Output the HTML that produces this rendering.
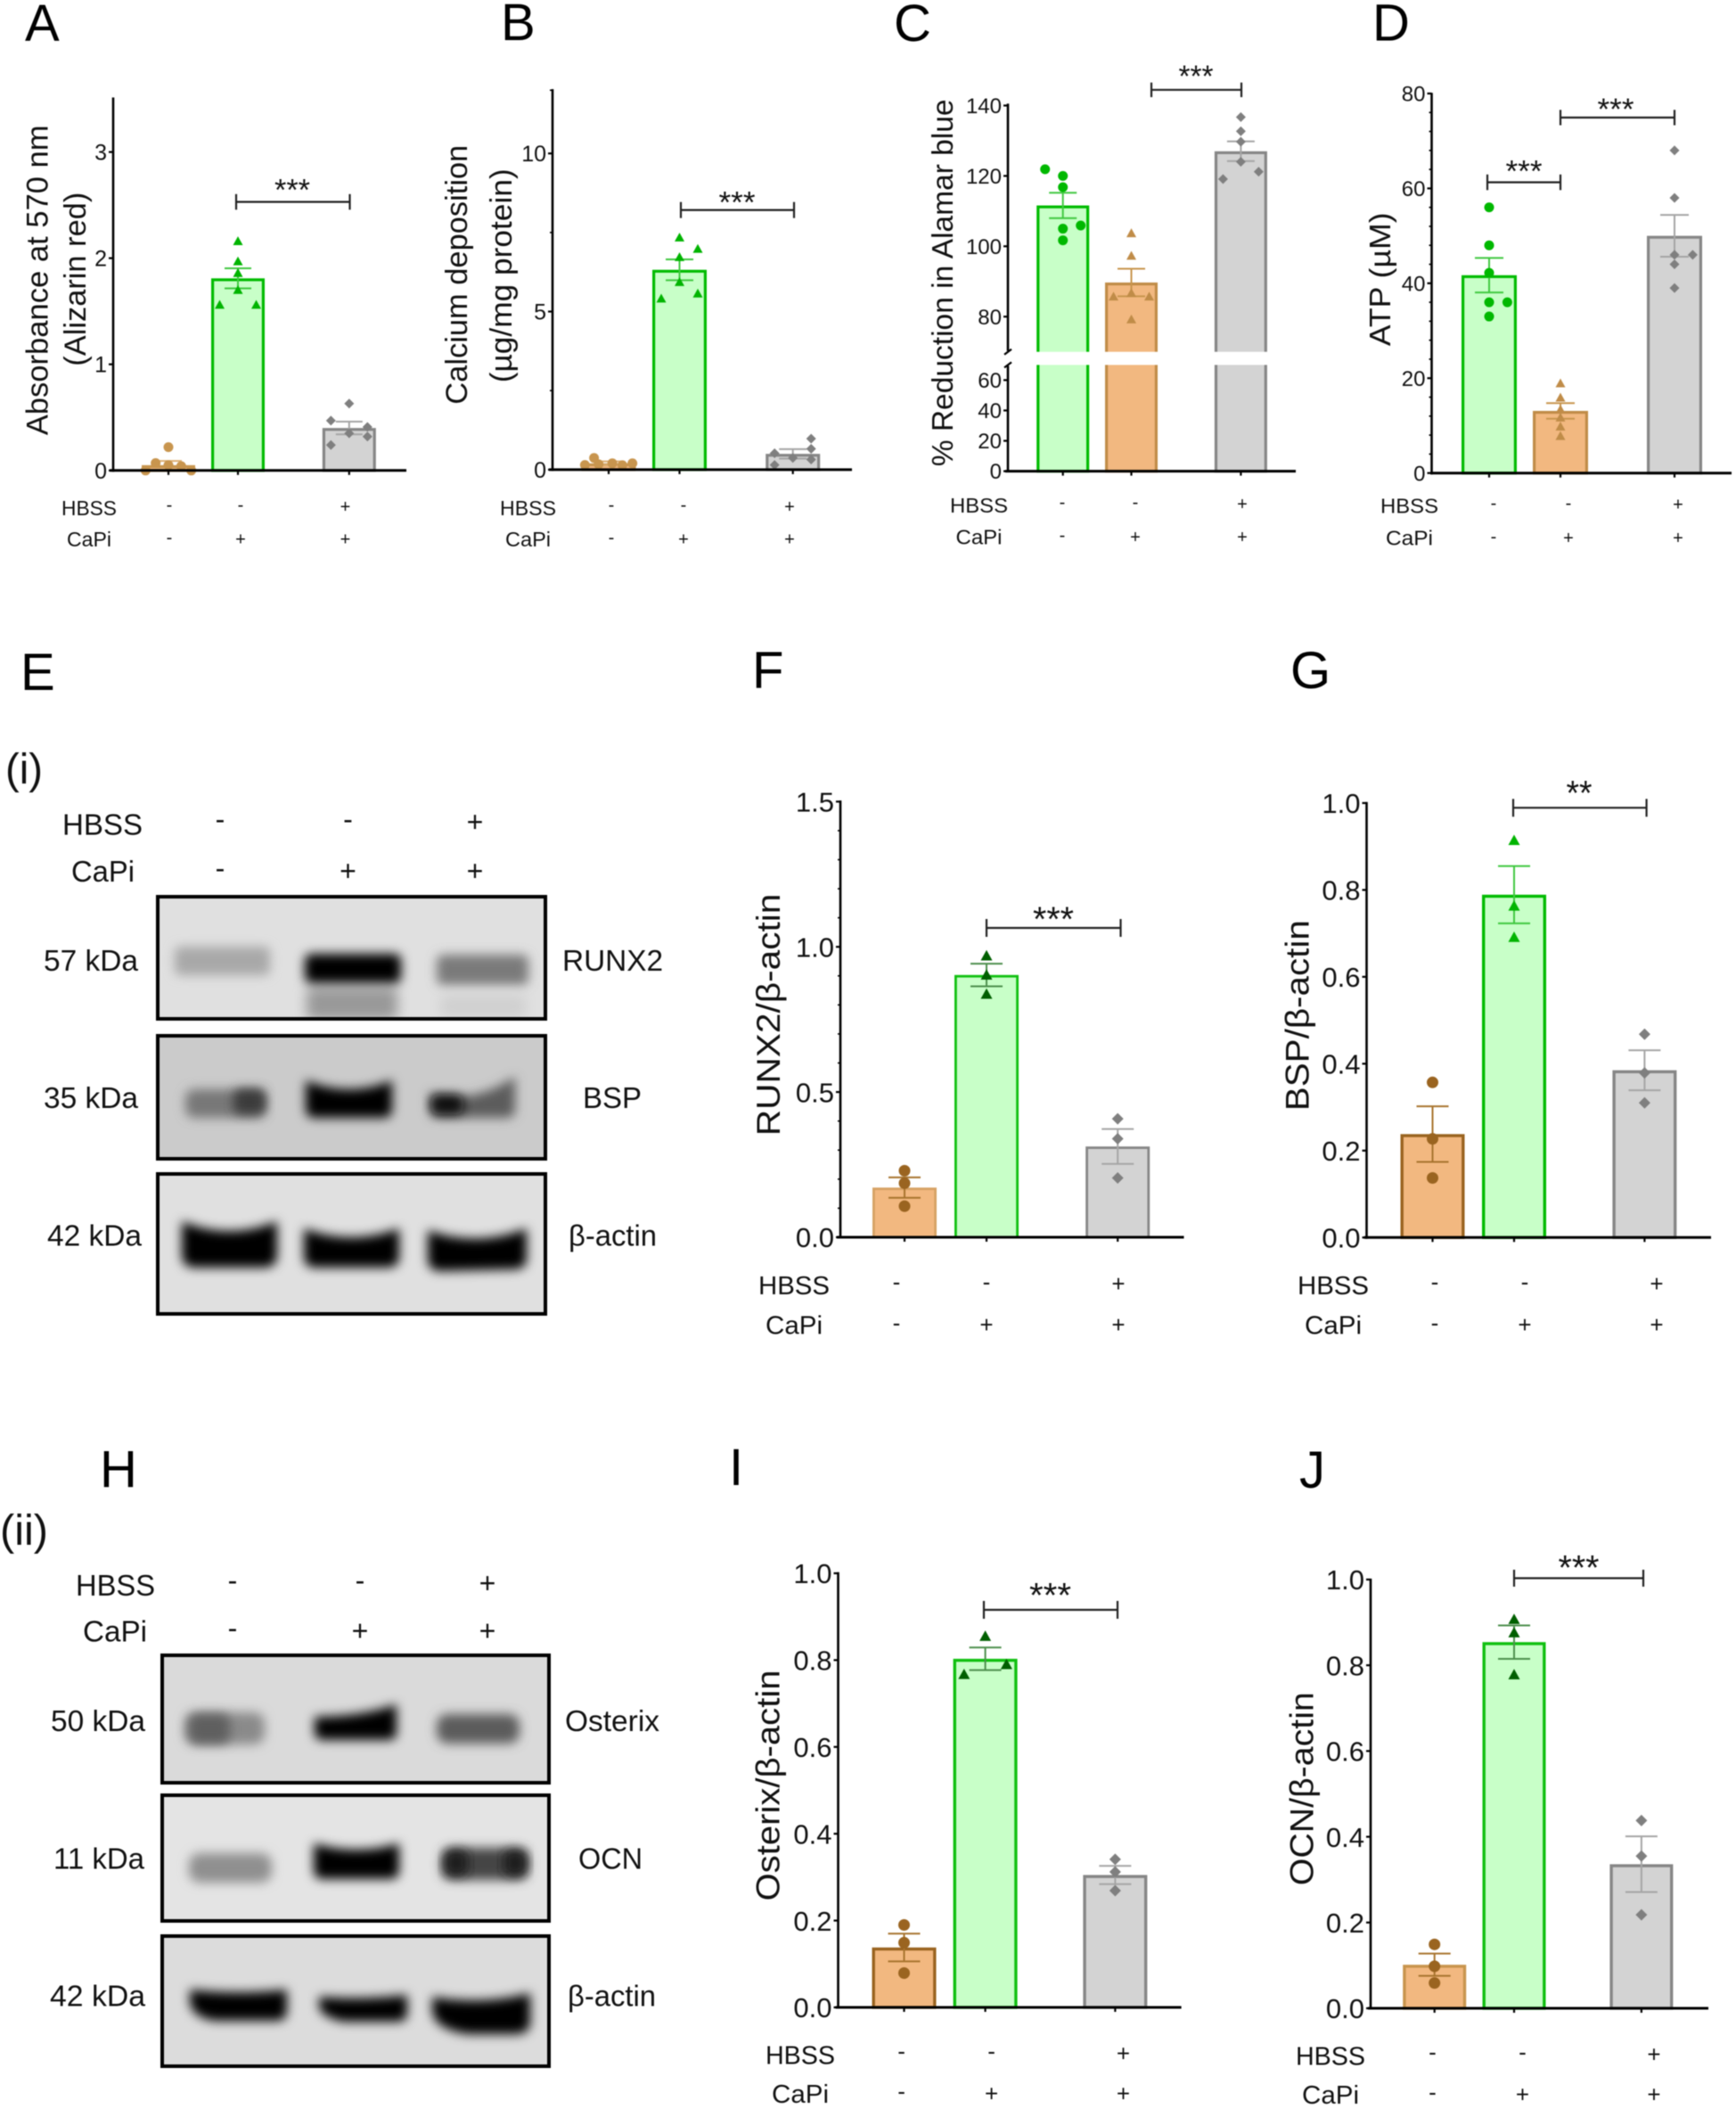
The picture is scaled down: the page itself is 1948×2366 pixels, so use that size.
<!DOCTYPE html>
<html lang="en">
<head>
<meta charset="utf-8">
<title>Calcification and osteogenic marker figure</title>
<style>
html,body{margin:0;padding:0;background:#fff;overflow:hidden;}
#figure{display:block;width:1948px;height:2366px;filter:blur(.55px);font-family:"Liberation Sans",sans-serif;}
</style>
</head>
<body>
<svg id="figure" xmlns="http://www.w3.org/2000/svg" width="1948" height="2366" viewBox="0 0 1948 2366">
<defs>
  <filter id="blur-band" x="-30%" y="-80%" width="160%" height="260%"><feGaussianBlur stdDeviation="6"/></filter>
  <filter id="blur-smear" x="-30%" y="-80%" width="160%" height="260%"><feGaussianBlur stdDeviation="7"/></filter>
  <clipPath id="clip-e1"><rect x="177" y="1006" width="435" height="137"/></clipPath>
  <clipPath id="clip-e2"><rect x="177" y="1162" width="435" height="138"/></clipPath>
  <clipPath id="clip-e3"><rect x="177" y="1317" width="435" height="157"/></clipPath>
  <clipPath id="clip-h1"><rect x="182" y="1857" width="434" height="143"/></clipPath>
  <clipPath id="clip-h2"><rect x="182" y="2014" width="434" height="141"/></clipPath>
  <clipPath id="clip-h3"><rect x="182" y="2172" width="434" height="146"/></clipPath>
</defs>

<g>
  <g clip-path="url(#clip-e1)">
    <rect x="177" y="1006" width="435" height="137" fill="#e0e0e0"/>
    <rect x="196" y="1062" width="107" height="32" rx="6" fill="#a8a8a8" filter="url(#blur-band)"/>
    <rect x="344" y="1108" width="102" height="36" rx="6" fill="#999" filter="url(#blur-smear)"/>
    <rect x="342" y="1070" width="108" height="33" rx="7" fill="#000" filter="url(#blur-band)"/>
    <rect x="490" y="1071" width="103" height="34" rx="7" fill="#7a7a7a" filter="url(#blur-band)"/>
    <rect x="494" y="1116" width="96" height="26" rx="6" fill="#d0d0d0" filter="url(#blur-smear)"/>
  </g>
  <rect x="177" y="1006" width="435" height="137" fill="none" stroke="#000" stroke-width="4"/>
  <g clip-path="url(#clip-e2)">
    <rect x="177" y="1162" width="435" height="138" fill="#cbcbcb"/>
    <rect x="208" y="1222" width="90" height="32" rx="10" fill="#777" filter="url(#blur-band)"/>
    <rect x="262" y="1222" width="36" height="28" rx="8" fill="#3a3a3a" filter="url(#blur-band)"/>
    <path d="M343,1212 Q392,1232 440,1212 L440,1244 Q440,1254 430,1254 L353,1254 Q343,1254 343,1244Z" fill="#000" filter="url(#blur-band)"/>
    <path d="M482,1226 Q530,1240 578,1208 L578,1244 Q578,1254 568,1254 L492,1254 Q482,1254 482,1244Z" fill="#5c5c5c" filter="url(#blur-band)"/>
    <rect x="484" y="1228" width="36" height="22" rx="8" fill="#0a0a0a" filter="url(#blur-band)"/>
  </g>
  <rect x="177" y="1162" width="435" height="138" fill="none" stroke="#000" stroke-width="4"/>
  <g clip-path="url(#clip-e3)">
    <rect x="177" y="1317" width="435" height="157" fill="#e0e0e0"/>
    <path d="M204,1370 Q257,1392 311,1370 L311,1408 Q311,1422 296,1422 L219,1422 Q204,1422 204,1408Z" fill="#000" filter="url(#blur-band)"/>
    <path d="M341,1378 Q394,1398 448,1378 L448,1410 Q448,1422 434,1422 L354,1422 Q341,1422 341,1410Z" fill="#000" filter="url(#blur-band)"/>
    <path d="M480,1380 Q535,1400 591,1378 L591,1412 Q591,1424 576,1424 L494,1426 Q480,1426 480,1412Z" fill="#000" filter="url(#blur-band)"/>
  </g>
  <rect x="177" y="1317" width="435" height="157" fill="none" stroke="#000" stroke-width="4"/>
</g>

<g>
  <g clip-path="url(#clip-h1)">
    <rect x="182" y="1857" width="434" height="143" fill="#dadada"/>
    <rect x="207" y="1921" width="90" height="36" rx="12" fill="#8a8a8a" filter="url(#blur-band)"/>
    <rect x="212" y="1923" width="46" height="33" rx="10" fill="#5e5e5e" filter="url(#blur-band)"/>
    <path d="M353,1926 Q405,1926 445,1912 L445,1944 Q445,1952 435,1952 L363,1952 Q353,1952 353,1944Z" fill="#000" filter="url(#blur-band)"/>
    <rect x="490" y="1923" width="93" height="33" rx="12" fill="#5c5c5c" filter="url(#blur-band)"/>
  </g>
  <rect x="182" y="1857" width="434" height="143" fill="none" stroke="#000" stroke-width="4"/>
  <g clip-path="url(#clip-h2)">
    <rect x="182" y="2014" width="434" height="141" fill="#e4e4e4"/>
    <rect x="212" y="2079" width="93" height="33" rx="12" fill="#8f8f8f" filter="url(#blur-band)"/>
    <path d="M352,2068 Q400,2082 448,2068 L448,2098 Q448,2108 438,2108 L362,2108 Q352,2108 352,2098Z" fill="#000" filter="url(#blur-band)"/>
    <rect x="495" y="2073" width="98" height="36" rx="12" fill="#454545" filter="url(#blur-band)"/>
    <rect x="499" y="2076" width="26" height="28" rx="8" fill="#1a1a1a" filter="url(#blur-band)"/>
    <rect x="565" y="2076" width="26" height="28" rx="8" fill="#1e1e1e" filter="url(#blur-band)"/>
  </g>
  <rect x="182" y="2014" width="434" height="141" fill="none" stroke="#000" stroke-width="4"/>
  <g clip-path="url(#clip-h3)">
    <rect x="182" y="2172" width="434" height="146" fill="#dcdcdc"/>
    <path d="M213,2232 Q268,2238 322,2232 L322,2256 Q322,2267 310,2267 L240,2267 Q213,2262 213,2244Z" fill="#000" filter="url(#blur-band)"/>
    <path d="M358,2240 Q408,2244 457,2238 L457,2258 Q457,2268 446,2268 L385,2268 Q358,2262 358,2250Z" fill="#000" filter="url(#blur-band)"/>
    <path d="M485,2240 Q540,2250 595,2236 L595,2268 Q595,2282 578,2282 L525,2282 Q485,2276 485,2254Z" fill="#000" filter="url(#blur-band)"/>
  </g>
  <rect x="182" y="2172" width="434" height="146" fill="none" stroke="#000" stroke-width="4"/>
</g>
<g id="layer-text"></g>
<g id="layer-charts"></g>
</svg>

<script>
// ---------- shared categories ----------
const groupNames = ['Control', 'CaPi', 'CaPi + HBSS'];
const categoryPositions = [0, 1, 2.6];
const hbssSigns = ['-', '-', '+'];
const capiSigns = ['-', '+', '+'];

// ---------- panel A ----------
const panelATicks = [0, 1, 2, 3];
const panelAMeans = [0.05, 1.81, 0.40];
const panelASem = [0.04, 0.094, 0.06];
const panelAPoints = [[0.22, 0.07, 0.05, 0.04, 0.0, 0.0], [2.16, 1.97, 1.86, 1.70, 1.56, 1.56], [0.63, 0.47, 0.41, 0.35, 0.32, 0.24]];
const panelASwarm = [[0, -0.7, 0, 0.7, -1.25, 1.25], [0, 0, 0, 0, -1, 1], [0, -1, 1, 0, 1, -1]];

// ---------- panel B ----------
const panelBTicks = [0, 5, 10];
const panelBMeans = [0.2, 6.32, 0.5];
const panelBSem = [0.06, 0.33, 0.15];
const panelBPoints = [[0.37, 0.15, 0.17, 0.2, 0.14, 0.2], [7.34, 6.98, 6.72, 5.93, 5.41, 5.57], [0.98, 0.66, 0.32, 0.37, 0.52, 0.15]];
const panelBSwarm = [[-0.8, -1.3, -0.55, 0.2, 0.75, 1.3], [0, 1, 0, 0, -1, 1], [1, 1, 1, 0, -1, -1]];

// ---------- panel C ----------
const panelCTicks = [0, 20, 40, 60, 80, 100, 120, 140];
const panelCMeans = [111.6, 89.7, 127];
const panelCSem = [3.6, 3.9, 2.8];
const panelCPoints = [[121.9, 120, 116.8, 105.9, 105, 101.7], [103.7, 97.3, 86.7, 85.7, 85.7, 79.2], [136.7, 132.7, 129.7, 124, 121.2, 119.1]];
const panelCSwarm = [[-1, 0, 0, 1, 0, 0], [0, 0, 0, -1, 1, 0], [0, 0, 0, 0, 1, -1]];

// ---------- panel D ----------
const panelDTicks = [0, 20, 40, 60, 80];
const panelDMeans = [41.7, 13.1, 50];
const panelDSem = [3.65, 1.65, 4.4];
const panelDPoints = [[56, 48, 42.2, 36, 36, 33], [18.9, 15.9, 13.4, 11.7, 9.8, 7.8], [68, 58, 46, 46, 44, 39]];
const panelDSwarm = [[0, 0, 0, 0, 1, 0], [0, 0, 0, 0, 0, 0], [0, 0, 0, 1, 0, 0]];

// ---------- panel F ----------
const panelFTicks = ['0.0', '0.5', '1.0', '1.5'];
const panelFMeans = [0.171, 0.903, 0.3125];
const panelFSem = [0.035, 0.039, 0.06];
const panelFPoints = [[0.229, 0.186, 0.107], [0.969, 0.903, 0.837], [0.408, 0.339, 0.204]];
const panelFSwarm = [[0, 0, 0], [0, 0, 0], [0, 0, 0]];

// ---------- panel G ----------
const panelGTicks = ['0.0', '0.2', '0.4', '0.6', '0.8', '1.0'];
const panelGMeans = [0.238, 0.789, 0.385];
const panelGSem = [0.064, 0.066, 0.046];
const panelGPoints = [[0.357, 0.227, 0.137], [0.914, 0.763, 0.691], [0.468, 0.379, 0.31]];
const panelGSwarm = [[0, 0, 0], [0, 0, 0], [0, 0, 0]];

// ---------- panel I ----------
const panelITicks = ['0.0', '0.2', '0.4', '0.6', '0.8', '1.0'];
const panelIMeans = [0.138, 0.803, 0.305];
const panelISem = [0.032, 0.026, 0.021];
const panelIPoints = [[0.19, 0.149, 0.079], [0.855, 0.79, 0.767], [0.341, 0.312, 0.269]];
const panelISwarm = [[0, 0, 0], [0, 1.4, -1.4], [0, 0, 0]];

// ---------- panel J ----------
const panelJTicks = ['0.0', '0.2', '0.4', '0.6', '0.8', '1.0'];
const panelJMeans = [0.1015, 0.854, 0.336];
const panelJSem = [0.026, 0.039, 0.065];
const panelJPoints = [[0.149, 0.098, 0.059], [0.907, 0.876, 0.778], [0.438, 0.355, 0.218]];
const panelJSwarm = [[0, 0, 0], [0, 0, 0], [0, 0, 0]];

// ---------- drawing helpers ----------
const SVGNS = 'http://www.w3.org/2000/svg';
const textLayer = document.getElementById('layer-text');
const chartLayer = document.getElementById('layer-charts');

function node(parent, tag, attrs, name) {
  const n = document.createElementNS(SVGNS, tag);
  for (const k in attrs) n.setAttribute(k, attrs[k]);
  
  
  parent.appendChild(n);
  return n;
}

// text centred vertically on cy. o: {x, cy, str, size, anchor, len, sx, rot, name, lift}
function label(parent, o) {
  const lift = o.lift === undefined ? 0.36 : o.lift;
  const attrs = {'font-family': '"Liberation Sans", sans-serif', 'font-size': o.size, fill: '#111', 'text-anchor': o.anchor || 'middle'};
  if (o.len) { attrs.textLength = o.len; attrs.lengthAdjust = 'spacingAndGlyphs'; }
  let tf;
  if (o.rot) tf = 'translate(' + (o.x + lift * o.size) + ',' + o.cy + ') rotate(-90)';
  else tf = 'translate(' + o.x + ',' + (o.cy + lift * o.size) + ') scale(' + (o.sx || 1) + ',1)';
  attrs.transform = tf;
  const t = node(parent, 'text', attrs, o.name);
  t.textContent = o.str;
  return t;
}

function signLabel(parent, x, cy, str, size, sx, name) {
  return label(parent, {x: x, cy: cy, str: str, size: size, sx: sx, name: name, lift: str === '+' ? 0.34 : 0.25});
}

function scaleY(segments) {
  return function (v) {
    for (const s of segments) {
      if (v <= s.to) return s.y0 + (v - s.from) / (s.to - s.from) * (s.y1 - s.y0);
    }
    const l = segments[segments.length - 1];
    return l.y0 + (v - l.from) / (l.to - l.from) * (l.y1 - l.y0);
  };
}

function markerPath(shape, x, y, rx, ry) {
  if (shape === 'triangle') return 'M' + x + ',' + (y - ry) + 'L' + (x + rx) + ',' + (y + ry * 0.8) + 'L' + (x - rx) + ',' + (y + ry * 0.8) + 'Z';
  if (shape === 'diamond') return 'M' + x + ',' + (y - ry) + 'L' + (x + rx) + ',' + y + 'L' + x + ',' + (y + ry) + 'L' + (x - rx) + ',' + y + 'Z';
  return 'M' + (x - rx) + ',' + y + 'A' + rx + ',' + ry + ' 0 1 0 ' + (x + rx) + ',' + y + 'A' + rx + ',' + ry + ' 0 1 0 ' + (x - rx) + ',' + y + 'Z';
}

function drawChart(c) {
  const g = node(chartLayer, 'g', {}, 'chart-panel-' + c.id);
  const y = scaleY(c.segments);
  const x = function (i) { return c.x0 + categoryPositions[i] * c.step; };
  const base = y(0);

  // bars
  c.means.forEach(function (m, i) {
    const st = c.styles[i];
    const top = y(m);
    node(g, 'rect', {x: x(i) - c.barW / 2 + c.barStroke / 2, y: top + c.barStroke / 2, width: c.barW - c.barStroke, height: Math.max(base - top - c.barStroke / 2, 0.5), fill: st.fill, stroke: st.stroke, 'stroke-width': c.barStroke}, 'bar-' + groupNames[i].toLowerCase().replace(/[^a-z]+/g, '-'));
  });

  // axis break band
  if (c.breakBand) {
    node(g, 'rect', {x: c.axisX + 4, y: c.breakBand[0], width: c.axisEnd - c.axisX - 4, height: c.breakBand[1] - c.breakBand[0], fill: '#fff'}, 'axis-break-band');
  }

  // error bars
  c.means.forEach(function (m, i) {
    const st = c.styles[i];
    const hi = y(m + c.sem[i]);
    const lo = y(m - c.sem[i]);
    const cx = x(i);
    const ew = c.capW / 2;
    const d = 'M' + cx + ',' + hi + 'V' + lo + 'M' + (cx - ew) + ',' + hi + 'H' + (cx + ew) + 'M' + (cx - ew) + ',' + lo + 'H' + (cx + ew);
    node(g, 'path', {d: d, fill: 'none', stroke: st.err, 'stroke-width': 2}, 'error-bar-' + i);
  });

  // data points
  c.points.forEach(function (arr, i) {
    const st = c.styles[i];
    arr.forEach(function (v, j) {
      const px = x(i) + c.swarm[i][j] * c.swarmStep;
      node(g, 'path', {d: markerPath(st.shape, px, y(v), c.markRx, c.markRy), fill: st.pt}, 'data-point-' + i + '-' + j);
    });
  });

  // axes
  const axisD = c.breakBand
    ? 'M' + c.axisX + ',' + base + 'V' + (c.breakBand[1] + 1) + 'M' + c.axisX + ',' + (c.breakBand[0] - 1) + 'V' + c.axisTop
    : 'M' + c.axisX + ',' + (base + 1.5) + 'V' + c.axisTop;
  node(g, 'path', {d: axisD, fill: 'none', stroke: '#000', 'stroke-width': 2.6}, 'y-axis');
  node(g, 'path', {d: 'M' + c.axisStart + ',' + base + 'H' + c.axisEnd, fill: 'none', stroke: '#000', 'stroke-width': 3}, 'x-axis');
  if (c.breakBand) {
    const bx = c.axisX;
    const bd = 'M' + (bx - 4) + ',' + (c.breakBand[0] + 3) + 'L' + (bx + 4) + ',' + (c.breakBand[0] - 3) + 'M' + (bx - 4) + ',' + (c.breakBand[1] + 3) + 'L' + (bx + 4) + ',' + (c.breakBand[1] - 3);
    node(g, 'path', {d: bd, fill: 'none', stroke: '#000', 'stroke-width': 2.2}, 'y-axis-break-mark');
  }
  (c.minor || []).forEach(function (v, i) {
    node(g, 'line', {x1: c.axisX - 3, x2: c.axisX, y1: y(v), y2: y(v), stroke: '#000', 'stroke-width': 1.6}, 'y-minor-tick-' + i);
  });

  // y ticks
  c.ticks.forEach(function (t) {
    const yy = y(parseFloat(t));
    node(g, 'line', {x1: c.axisX - 5, x2: c.axisX, y1: yy, y2: yy, stroke: '#000', 'stroke-width': 2.2}, 'y-tick-' + t);
    label(g, {x: c.axisX - 7, cy: yy, str: String(t), size: c.tickSize, sx: c.tickSx, anchor: 'end', name: 'y-tick-label-' + t});
  });

  // x ticks
  c.means.forEach(function (m, i) {
    node(g, 'line', {x1: x(i), x2: x(i), y1: base, y2: base + 5, stroke: '#000', 'stroke-width': 2.2}, 'x-tick-' + i);
  });

  // axis title
  c.titles.forEach(function (t, i) {
    label(g, {x: t.x, cy: t.cy, str: t.str, size: t.size, len: t.len, rot: true, name: 'y-axis-title-' + i});
  });

  // significance brackets
  c.brackets.forEach(function (b, i) {
    const d = 'M' + b.x1 + ',' + (b.y - b.h) + 'V' + (b.y + b.h) + 'M' + b.x2 + ',' + (b.y - b.h) + 'V' + (b.y + b.h) + 'M' + b.x1 + ',' + b.y + 'H' + b.x2;
    node(g, 'path', {d: d, fill: 'none', stroke: '#222', 'stroke-width': 2.2}, 'significance-bracket-' + i);
    label(g, {x: b.sx, cy: b.sy, str: b.stars, size: b.size, len: b.len, lift: 0.48, name: 'significance-stars-' + i});
  });

  // treatment rows
  label(g, {x: c.rowLabelX, cy: c.hbssY, str: 'HBSS', size: c.rowSize, len: c.hbssLen, name: 'row-label-hbss'});
  label(g, {x: c.rowLabelX, cy: c.capiY, str: 'CaPi', size: c.rowSize, len: c.capiLen, name: 'row-label-capi'});
  hbssSigns.forEach(function (s, i) { signLabel(g, c.signX[i], c.hbssY - 1.5, s, c.signSize, 1, 'hbss-sign-' + i); });
  capiSigns.forEach(function (s, i) { signLabel(g, c.signX[i], c.capiY, s, c.signSize, 1, 'capi-sign-' + i); });
}

// ---------- styles ----------
const orangeSoft = {fill: '#f2b880', stroke: '#c8954e', err: '#dcae70', pt: '#c8954e', shape: 'circle'};
const orangeTri = {fill: '#f2b880', stroke: '#c08c48', err: '#c8954e', pt: '#c08c48', shape: 'triangle'};
const orangeDark = {fill: '#f2b880', stroke: '#9a6420', err: '#a8742e', pt: '#9a6420', shape: 'circle'};
const orangeLightEdge = {fill: '#f2b880', stroke: '#d6a264', err: '#a8742e', pt: '#9a6420', shape: 'circle'};
const orangeMidEdge = {fill: '#f2b880', stroke: '#c8954e', err: '#a8742e', pt: '#9a6420', shape: 'circle'};
const greenTri = {fill: '#c8ffc8', stroke: '#00bb00', err: '#40c840', pt: '#00b400', shape: 'triangle'};
const greenDot = {fill: '#c8ffc8', stroke: '#00bb00', err: '#40c840', pt: '#00b800', shape: 'circle'};
const greenDarkTri = {fill: '#c8ffc8', stroke: '#10c010', err: '#4d8f4d', pt: '#005f00', shape: 'triangle'};
const grayDia = {fill: '#d3d3d3', stroke: '#868686', err: '#a5a5a5', pt: '#7f7f7f', shape: 'diamond'};

// ---------- charts ----------
drawChart({id: 'a', x0: 189, step: 78, barW: 60, barStroke: 3.2, capW: 30,
  segments: [{from: 0, to: 3.5, y0: 527.8, y1: 111}], axisX: 127, axisTop: 109.4, axisStart: 123, axisEnd: 456,
  means: panelAMeans, sem: panelASem, points: panelAPoints, swarm: panelASwarm, ticks: panelATicks,
  styles: [orangeSoft, greenTri, grayDia], swarmStep: 20.5, markRx: 5.5, markRy: 5.5, tickSize: 25, tickSx: 1,
  titles: [{x: 41, cy: 314.3, str: 'Absorbance at 570 nm', size: 34.6, len: 348}, {x: 84, cy: 313.2, str: '(Alizarin red)', size: 34, len: 195}],
  brackets: [{x1: 265, x2: 392.5, y: 226.5, h: 8.8, sx: 328, sy: 208.2, stars: '***', size: 34, len: 40}],
  rowLabelX: 100, hbssY: 569.7, capiY: 604.6, rowSize: 23, hbssLen: 62, capiLen: 50, signSize: 20, signX: [190, 270, 387.5]});

drawChart({id: 'b', x0: 683, step: 79.5, barW: 61, barStroke: 3.2, capW: 31,
  segments: [{from: 0, to: 12, y0: 526.9, y1: 101.2}], axisX: 620, axisTop: 100, axisStart: 616, axisEnd: 956,
  means: panelBMeans, sem: panelBSem, points: panelBPoints, swarm: panelBSwarm, ticks: panelBTicks,
  styles: [orangeSoft, greenTri, grayDia], swarmStep: 20.5, markRx: 5.5, markRy: 5.5, tickSize: 25, tickSx: 1,
  minor: [2.5, 7.5, 12],
  titles: [{x: 512, cy: 308.2, str: 'Calcium deposition', size: 34, len: 291}, {x: 562, cy: 309.3, str: '(µg/mg protein)', size: 34, len: 240}],
  brackets: [{x1: 764, x2: 891, y: 235.6, h: 9, sx: 827, sy: 222.1, stars: '***', size: 34, len: 41}],
  rowLabelX: 592.5, hbssY: 569.7, capiY: 604.6, rowSize: 23, hbssLen: 63, capiLen: 51, signSize: 20, signX: [686, 767, 886]});

drawChart({id: 'c', x0: 1192.7, step: 76.8, barW: 59, barStroke: 3.2, capW: 31,
  segments: [{from: 0, to: 70, y0: 528.6, y1: 409.4}, {from: 70, to: 140, y0: 394.7, y1: 118.4}], axisX: 1131, axisTop: 116.3, axisStart: 1128, axisEnd: 1454,
  means: panelCMeans, sem: panelCSem, points: panelCPoints, swarm: panelCSwarm, ticks: panelCTicks,
  styles: [greenDot, orangeTri, grayDia], swarmStep: 20, markRx: 5.5, markRy: 5.5, tickSize: 24, tickSx: 1,
  breakBand: [394.7, 409.4],
  titles: [{x: 1057, cy: 317.3, str: '% Reduction in Alamar blue', size: 33, len: 412}],
  brackets: [{x1: 1292, x2: 1393, y: 100.8, h: 8.2, sx: 1342, sy: 80.7, stars: '***', size: 34, len: 39}],
  rowLabelX: 1098.5, hbssY: 566.7, capiY: 602.1, rowSize: 23, hbssLen: 65, capiLen: 52, signSize: 20, signX: [1192, 1274, 1394]});

drawChart({id: 'd', x0: 1671, step: 80, barW: 62, barStroke: 3.2, capW: 32,
  segments: [{from: 0, to: 80, y0: 530.7, y1: 104.9}], axisX: 1606.5, axisTop: 104.1, axisStart: 1605, axisEnd: 1943,
  means: panelDMeans, sem: panelDSem, points: panelDPoints, swarm: panelDSwarm, ticks: panelDTicks,
  styles: [greenDot, orangeTri, grayDia], swarmStep: 20.4, markRx: 5.5, markRy: 5.5, tickSize: 24, tickSx: 1,
  minor: [4, 8, 12, 16, 24, 28, 32, 36, 44, 48, 52, 56, 64, 68, 72, 76],
  titles: [{x: 1548, cy: 313.3, str: 'ATP (µM)', size: 33, len: 150}],
  brackets: [{x1: 1669, x2: 1751, y: 204.5, h: 8.8, sx: 1710, sy: 187, stars: '***', size: 34, len: 41},
             {x1: 1751, x2: 1879, y: 131.9, h: 8.6, sx: 1813, sy: 117.5, stars: '***', size: 34, len: 41}],
  rowLabelX: 1581.5, hbssY: 567.4, capiY: 603.3, rowSize: 23, hbssLen: 65, capiLen: 53, signSize: 20, signX: [1676, 1760, 1883]});

drawChart({id: 'f', x0: 1015, step: 92, barW: 72, barStroke: 2.8, capW: 36,
  segments: [{from: 0, to: 1.5, y0: 1388, y1: 899.3}], axisX: 943, axisTop: 898, axisStart: 939, axisEnd: 1328.5,
  means: panelFMeans, sem: panelFSem, points: panelFPoints, swarm: panelFSwarm, ticks: panelFTicks,
  styles: [orangeLightEdge, greenDarkTri, grayDia], swarmStep: 23, markRx: 6.5, markRy: 6.5, tickSize: 31, tickSx: 1,
  minor: [0.1, 0.2, 0.3, 0.4, 0.6, 0.7, 0.8, 0.9, 1.1, 1.2, 1.3, 1.4],
  titles: [{x: 861.5, cy: 1138.4, str: 'RUNX2/β-actin', size: 37, len: 271.6}],
  brackets: [{x1: 1107, x2: 1257.5, y: 1041, h: 10, sx: 1182, sy: 1026, stars: '***', size: 39, len: 46}],
  rowLabelX: 891, hbssY: 1441.8, capiY: 1486.3, rowSize: 29, hbssLen: 80, capiLen: 64, signSize: 26, signX: [1006, 1107, 1255]});

drawChart({id: 'g', x0: 1607.5, step: 91.5, barW: 72, barStroke: 3.4, capW: 36,
  segments: [{from: 0, to: 1, y0: 1388.3, y1: 900.9}], axisX: 1533.5, axisTop: 899.8, axisStart: 1530.6, axisEnd: 1920,
  means: panelGMeans, sem: panelGSem, points: panelGPoints, swarm: panelGSwarm, ticks: panelGTicks,
  styles: [orangeDark, greenTri, grayDia], swarmStep: 23, markRx: 6.5, markRy: 6.5, tickSize: 31, tickSx: 1,
  titles: [{x: 1455, cy: 1139.2, str: 'BSP/β-actin', size: 37, len: 214}],
  brackets: [{x1: 1698, x2: 1847.6, y: 906.2, h: 10, sx: 1772, sy: 884.3, stars: '**', size: 39, len: 29}],
  rowLabelX: 1496, hbssY: 1441.8, capiY: 1486.3, rowSize: 29, hbssLen: 80, capiLen: 64, signSize: 26, signX: [1610, 1711, 1859]});

drawChart({id: 'i', x0: 1014.5, step: 91.1, barW: 72, barStroke: 3.4, capW: 36,
  segments: [{from: 0, to: 1, y0: 2252, y1: 1765}], axisX: 940.5, axisTop: 1763.7, axisStart: 937.6, axisEnd: 1325.6,
  means: panelIMeans, sem: panelISem, points: panelIPoints, swarm: panelISwarm, ticks: panelITicks,
  styles: [orangeDark, greenDarkTri, grayDia], swarmStep: 17, markRx: 6.5, markRy: 6.5, tickSize: 31, tickSx: 1,
  titles: [{x: 861, cy: 2003, str: 'Osterix/β-actin', size: 37, len: 259}],
  brackets: [{x1: 1104, x2: 1254, y: 1806, h: 10, sx: 1178.5, sy: 1784.2, stars: '***', size: 39, len: 47}],
  rowLabelX: 898, hbssY: 2305, capiY: 2348.5, rowSize: 29, hbssLen: 78, capiLen: 64, signSize: 26, signX: [1011.6, 1112.6, 1260.5]});

drawChart({id: 'j', x0: 1609.7, step: 89.3, barW: 71, barStroke: 3.4, capW: 36,
  segments: [{from: 0, to: 1, y0: 2253, y1: 1772}], axisX: 1538, axisTop: 1771, axisStart: 1535, axisEnd: 1917,
  means: panelJMeans, sem: panelJSem, points: panelJPoints, swarm: panelJSwarm, ticks: panelJTicks,
  styles: [orangeMidEdge, greenDarkTri, grayDia], swarmStep: 23, markRx: 6.5, markRy: 6.5, tickSize: 31, tickSx: 1,
  titles: [{x: 1460, cy: 2006.7, str: 'OCN/β-actin', size: 37, len: 217}],
  brackets: [{x1: 1699, x2: 1844, y: 1770.5, h: 9.5, sx: 1771.5, sy: 1753.4, stars: '***', size: 39, len: 46}],
  rowLabelX: 1493, hbssY: 2306, capiY: 2349.5, rowSize: 29, hbssLen: 78, capiLen: 64, signSize: 26, signX: [1607.5, 1708.5, 1856]});

// ---------- panel letters ----------
function panelLetter(str, x, baseline) {
  const t = node(textLayer, 'text', {x: x, y: baseline, 'font-family': '"Liberation Sans", sans-serif', 'font-size': 58, fill: '#000'}, 'panel-letter-' + str.toLowerCase());
  t.textContent = str;
}
panelLetter('A', 28, 46);
panelLetter('B', 562, 45);
panelLetter('C', 1003, 46);
panelLetter('D', 1540, 45.5);
panelLetter('E', 23, 774);
panelLetter('F', 844, 772);
panelLetter('G', 1448, 772);
panelLetter('H', 112, 1668);
panelLetter('I', 818, 1666);
panelLetter('J', 1458, 1669);

// ---------- blot labels ----------
function blotText(x, cy, str, len, name) {
  label(textLayer, {x: x, cy: cy, str: str, size: 33.5, len: len, name: name});
}
label(textLayer, {x: 27, cy: 861.5, str: '(i)', size: 48, len: 42, name: 'subpanel-label-i'});
label(textLayer, {x: 27, cy: 1715.5, str: '(ii)', size: 48, len: 54, name: 'subpanel-label-ii'});

blotText(115, 924.5, 'HBSS', 90, 'blot-e-hbss-label');
blotText(115.5, 977, 'CaPi', 71, 'blot-e-capi-label');
blotText(102, 1077, '57 kDa', 106, 'mw-label-runx2');
blotText(102, 1231, '35 kDa', 106, 'mw-label-bsp');
blotText(106, 1385.5, '42 kDa', 106, 'mw-label-actin-e');
blotText(687.5, 1077, 'RUNX2', 113, 'protein-label-runx2');
blotText(687, 1231, 'BSP', 66, 'protein-label-bsp');
blotText(687.5, 1385.5, 'β-actin', 99, 'protein-label-actin-e');

blotText(129.5, 1778, 'HBSS', 89, 'blot-h-hbss-label');
blotText(129, 1829.6, 'CaPi', 72, 'blot-h-capi-label');
blotText(110, 1930, '50 kDa', 106, 'mw-label-osterix');
blotText(111, 2084.5, '11 kDa', 102, 'mw-label-ocn');
blotText(109.5, 2238.5, '42 kDa', 107, 'mw-label-actin-h');
blotText(687, 1930, 'Osterix', 106, 'protein-label-osterix');
blotText(685, 2084.5, 'OCN', 72, 'protein-label-ocn');
blotText(686.5, 2238.5, 'β-actin', 99, 'protein-label-actin-h');

[247, 390.5, 533].forEach(function (x, i) {
  signLabel(textLayer, x, 922, hbssSigns[i], 32, 1, 'blot-e-hbss-sign-' + i);
  signLabel(textLayer, x, 977, capiSigns[i], 32, 1, 'blot-e-capi-sign-' + i);
});
[261, 404, 547].forEach(function (x, i) {
  signLabel(textLayer, x, 1776, hbssSigns[i], 32, 1, 'blot-h-hbss-sign-' + i);
  signLabel(textLayer, x, 1829.6, capiSigns[i], 32, 1, 'blot-h-capi-sign-' + i);
});
</script>
</body>
</html>
